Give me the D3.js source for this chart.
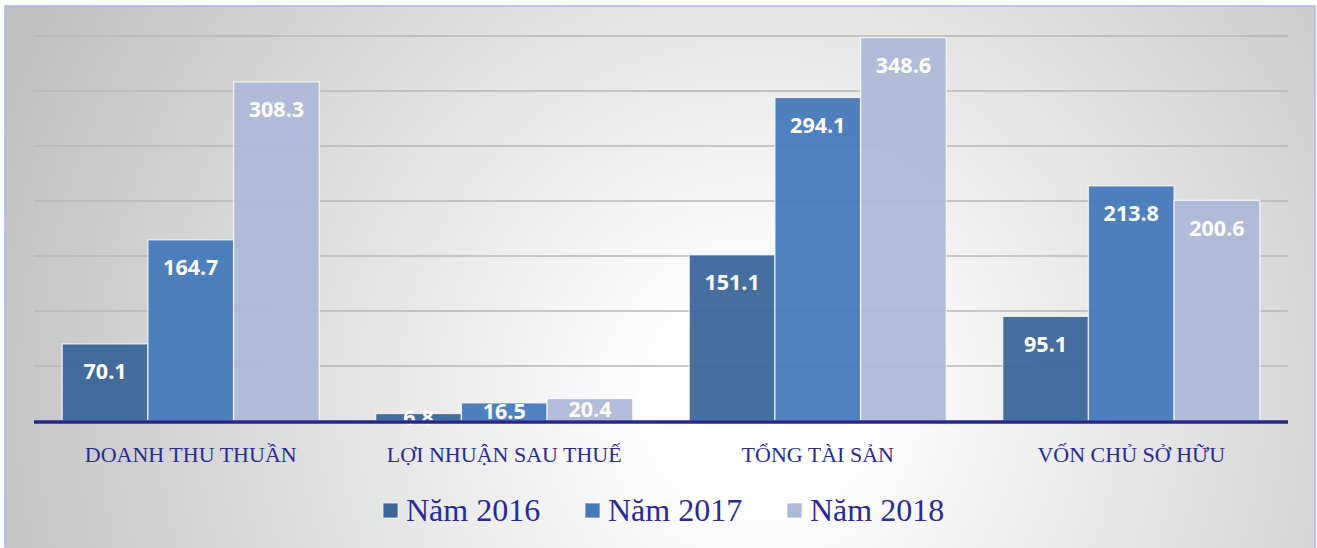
<!DOCTYPE html>
<html>
<head>
    <meta charset="utf-8" />
    <title>Bar chart 2016-2018</title>
    <style>
        body { margin: 0; background: #fff; }
        svg { display: block; }
        .grid line { stroke: #b6b6bc; stroke-width: 1.7; }
        .cat text { font-family: "Liberation Serif", serif; font-size: 22px; fill: #2a2a92; }
        .value { font-family: "Open Sans", sans-serif; font-weight: bold; font-size: 21.5px; fill: #fff; }
        .legend text { font-family: "Liberation Serif", serif; font-size: 32px; fill: #2a2a92; }
    </style>
    <script src="https://d3js.org/d3.v7.min.js"></script>
</head>
<body>
<script>

// data
let categories = ["DOANH THU THUẦN", "LỢI NHUẬN SAU THUẾ", "TỔNG TÀI SẢN", "VỐN CHỦ SỞ HỮU"];
let series = ["Năm 2016", "Năm 2017", "Năm 2018"];
let values2016 = [70.1, 6.8, 151.1, 95.1];
let values2017 = [164.7, 16.5, 294.1, 213.8];
let values2018 = [308.3, 20.4, 348.6, 200.6];
let gridTicks = [0, 50, 100, 150, 200, 250, 300, 350];

let colors = ["#3a6699", "#4479bb", "#adb9d7"];
let allValues = [values2016, values2017, values2018];

let W = 1317, H = 548;
let plot = { left: 34, right: 1288, top: 36, bottom: 421 };

let svg = d3.select("body").append("svg")
    .attr("width", W)
    .attr("height", H);

// background gradient
let defs = svg.append("defs");
let grad = defs.append("radialGradient")
    .attr("id", "bg")
    .attr("gradientUnits", "userSpaceOnUse")
    .attr("cx", 760).attr("cy", 400).attr("r", 820);
grad.append("stop").attr("offset", "0.12").attr("stop-color", "#ffffff");
grad.append("stop").attr("offset", "1").attr("stop-color", "#c0c0c0");

svg.append("rect")
    .attr("x", 5).attr("y", 6)
    .attr("width", 1310).attr("height", 548)
    .attr("fill", "url(#bg)")
    .attr("stroke", "#b4b4f0")
    .attr("stroke-width", 1.6);

// scales
let x0 = d3.scaleBand()
    .domain(categories)
    .range([plot.left, plot.right])
    .paddingInner(0.18)
    .paddingOuter(0.09);

let x1 = d3.scaleBand()
    .domain(series)
    .range([0, x0.bandwidth()]);

let y = d3.scaleLinear()
    .domain([0, 350])
    .range([plot.bottom, plot.top]);

// gridlines
svg.append("g")
    .attr("class", "grid")
    .selectAll("line")
    .data(gridTicks.slice(1))
    .enter()
    .append("line")
    .attr("x1", plot.left)
    .attr("x2", plot.right)
    .attr("y1", d => y(d))
    .attr("y2", d => y(d));

// rows: one per category, one bar per series
let rows = categories.map((c, i) => {
    return series.map((s, j) => ({ cat: c, ser: s, v: allValues[j][i], k: j }));
});

let groups = svg.append("g")
    .selectAll("g")
    .data(rows)
    .enter()
    .append("g")
    .attr("transform", (d, i) => "translate(" + x0(categories[i]) + ",0)");

groups.selectAll("rect")
    .data(d => d)
    .enter()
    .append("rect")
    .attr("x", d => x1(d.ser))
    .attr("y", d => y(d.v))
    .attr("width", x1.bandwidth())
    .attr("height", d => y(0) - y(d.v))
    .attr("fill", d => colors[d.k])
    .attr("fill-opacity", 0.94)
    .attr("stroke", "rgba(255,255,255,0.75)")
    .attr("stroke-width", 1.3);

// labels inside the top of each bar (centred when the bar is short)
groups.selectAll("text")
    .data(d => d)
    .enter()
    .append("text")
    .attr("class", "value")
    .attr("text-anchor", "middle")
    .attr("x", d => x1(d.ser) + x1.bandwidth() / 2)
    .attr("y", d => {
        let c = Math.min(y(d.v) + 28, (y(d.v) + y(0)) / 2);
        return c + 7.5;
    })
    .text(d => d.v.toFixed(1));

// baseline
svg.append("line")
    .attr("x1", plot.left)
    .attr("x2", plot.right)
    .attr("y1", y(0) + 1)
    .attr("y2", y(0) + 1)
    .attr("stroke", "#26268f")
    .attr("stroke-width", 3.5);

// category labels
svg.append("g")
    .attr("class", "cat")
    .selectAll("text")
    .data(categories)
    .enter()
    .append("text")
    .attr("text-anchor", "middle")
    .attr("x", d => x0(d) + x0.bandwidth() / 2)
    .attr("y", 462)
    .text(d => d);

// legend
let legendX = [383, 585, 787];
let legend = svg.append("g")
    .attr("class", "legend")
    .selectAll("g")
    .data(series)
    .enter()
    .append("g")
    .attr("transform", (d, i) => "translate(" + legendX[i] + ",0)");

legend.append("rect")
    .attr("x", 0).attr("y", 503)
    .attr("width", 15).attr("height", 15)
    .attr("fill", (d, i) => colors[i])
    .attr("stroke", "rgba(255,255,255,0.7)");

legend.append("text")
    .attr("x", 23)
    .attr("y", 521)
    .text(d => d);

</script>
</body>
</html>
